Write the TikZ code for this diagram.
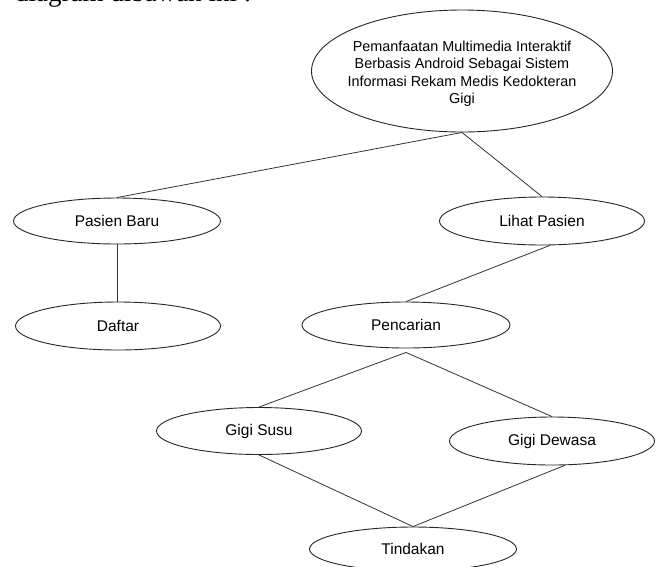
\documentclass[tikz,border=0pt]{standalone}
\usepackage{fontspec}
\setmainfont{Liberation Sans}
\newfontfamily\serifdoc{Liberation Serif}
\usetikzlibrary{shapes.geometric}
\tikzset{
  el/.style={ellipse, draw=black!85, line width=0.9pt, inner sep=0pt, minimum width=205pt, minimum height=46pt, font=\fontsize{15.5}{18}\selectfont},
  conn/.style={draw=black!80, line width=0.8pt},
  toptxt/.style={align=center, inner sep=0pt, font=\fontsize{14.4}{17.5}\selectfont}
}
\begin{document}
\begin{tikzpicture}[x=1pt, y=-1pt]
\useasboundingbox (0,0) rectangle (660,566);
\clip (0,0) rectangle (660,566);
\node[anchor=base west, inner sep=0pt, font=\serifdoc\fontsize{27}{29}\selectfont] (intro) at (15,1) {diagram dibawah ini :};
\node[el, minimum width=301pt, minimum height=122pt] (top) at (462,71) {};
\node[toptxt] (toptext) at (462,74) {Pemanfaatan Multimedia Interaktif\\Berbasis Android Sebagai Sistem\\Informasi Rekam Medis Kedokteran\\Gigi};
\node[el, minimum width=207pt, minimum height=46pt] (pb) at (117,221) {Pasien Baru};
\node[el, minimum width=205pt, minimum height=48pt] (df) at (118,326) {Daftar};
\node[el, minimum width=205pt, minimum height=48pt] (lp) at (542,221) {Lihat Pasien};
\node[el, minimum width=208pt, minimum height=46pt] (pc) at (406,325) {Pencarian};
\node[el, minimum width=205pt, minimum height=47pt] (gs) at (259,431) {Gigi Susu};
\node[el, minimum width=205pt, minimum height=48pt] (gd) at (552,441) {Gigi Dewasa};
\node[el, minimum width=207pt, minimum height=44pt] (td) at (413,549) {Tindakan};
\coordinate (pcb) at ([yshift=-4pt]pc.south);
\draw[conn] (top.south) -- (pb.north);
\draw[conn] (top.south) -- (lp.north);
\draw[conn] (pb.south) -- (pb.south |- df.north);
\draw[conn] (lp.288) -- (pc.north);
\draw[conn] (pcb) -- (gs.north);
\draw[conn] (pcb) -- (gd.north);
\draw[conn] (gs.south) -- (td.north);
\draw[conn] (gd.298) -- (td.north);
\end{tikzpicture}
\end{document}
